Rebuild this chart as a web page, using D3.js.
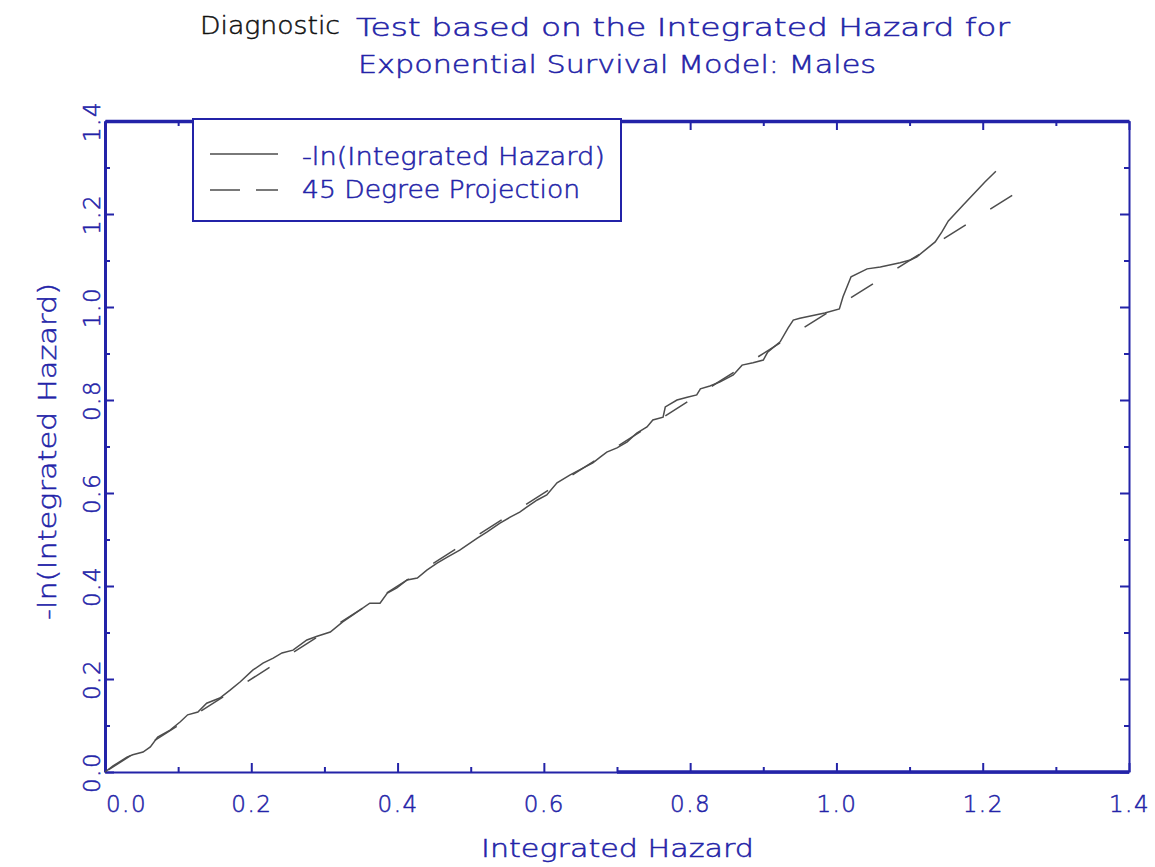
<!DOCTYPE html>
<html>
<head>
<meta charset="utf-8">
<script src="https://cdn.jsdelivr.net/npm/d3@7"></script>
<style>
body { margin:0; background:#fff; }
svg text { font-family: "DejaVu Sans", sans-serif; font-weight: 200; stroke-width: 0.5px; }
</style>
</head>
<body>
<svg id="chart" width="1155" height="867"></svg>
<script>
// -ln(integrated hazard) vs integrated hazard
var hazX = [0, 0.011, 0.030, 0.038, 0.052, 0.062, 0.072, 0.089, 0.103, 0.113, 0.127, 0.139, 0.157, 0.171,
    0.185, 0.202, 0.216, 0.230, 0.242, 0.257, 0.276, 0.290, 0.308, 0.325, 0.339, 0.362, 0.376, 0.386,
    0.399, 0.413, 0.427, 0.440, 0.454, 0.468, 0.485, 0.509, 0.522, 0.540, 0.554, 0.567, 0.577, 0.591,
    0.604, 0.618, 0.636, 0.654, 0.667, 0.677, 0.686, 0.700, 0.714, 0.727, 0.741, 0.749, 0.763, 0.766,
    0.782, 0.796, 0.809, 0.814, 0.827, 0.841, 0.859, 0.871, 0.886, 0.900, 0.906, 0.923, 0.934, 0.941,
    0.950, 0.984, 1.004, 1.009, 1.020, 1.042, 1.060, 1.087, 1.101, 1.110, 1.135, 1.144, 1.153, 1.173,
    1.203, 1.218];
var hazY = [0, 0.013, 0.032, 0.037, 0.043, 0.054, 0.075, 0.090, 0.108, 0.123, 0.129, 0.148, 0.159, 0.176,
    0.194, 0.219, 0.234, 0.245, 0.256, 0.262, 0.284, 0.292, 0.301, 0.323, 0.338, 0.363, 0.363, 0.385,
    0.396, 0.413, 0.417, 0.434, 0.449, 0.462, 0.477, 0.503, 0.516, 0.535, 0.548, 0.559, 0.570, 0.585,
    0.596, 0.622, 0.639, 0.654, 0.665, 0.677, 0.688, 0.697, 0.710, 0.729, 0.742, 0.757, 0.763, 0.785,
    0.800, 0.806, 0.811, 0.824, 0.830, 0.839, 0.854, 0.875, 0.880, 0.886, 0.903, 0.925, 0.955, 0.972,
    0.976, 0.987, 0.996, 1.022, 1.065, 1.082, 1.086, 1.095, 1.101, 1.108, 1.140, 1.161, 1.185, 1.219,
    1.269, 1.292];
// 45 degree projection
var projX = [0, 1.242];
var projY = [0, 1.242];

var majorTicks = [0, 0.2, 0.4, 0.6, 0.8, 1.0, 1.2, 1.4];
var minorTicks = [0.1, 0.3, 0.5, 0.7, 0.9, 1.1, 1.3];
var tickLabels = ["0.0", "0.2", "0.4", "0.6", "0.8", "1.0", "1.2", "1.4"];
var legendLabels = ["-ln(Integrated Hazard)", "45 Degree Projection"];

var blue = "#2323a8";
var grey = "#4d4d4d";

var svg = d3.select("#chart");
var x = d3.scaleLinear().domain([0, 1.4]).range([105, 1129]);
var y = d3.scaleLinear().domain([0, 1.4]).range([772, 121]);

function txt(str, tx, ty, len, size, color) {
    return svg.append("text")
        .attr("x", tx).attr("y", ty)
        .attr("textLength", len).attr("lengthAdjust", "spacingAndGlyphs")
        .style("font-size", size + "px")
        .attr("fill", color).attr("stroke", color)
        .text(str);
}

// titles
txt("Diagnostic", 200, 34, 140, 25, "#111");
txt("Test based on the Integrated Hazard for", 356, 36, 654, 25, blue);
txt("Exponential Survival Model: Males", 358, 73, 518, 25, blue);
txt("Integrated Hazard", 481, 857, 273, 25, blue);
svg.append("text")
    .attr("transform", "translate(56,620) rotate(-90)")
    .attr("textLength", 337).attr("lengthAdjust", "spacingAndGlyphs")
    .style("font-size", "25px")
    .attr("fill", blue).attr("stroke", blue)
    .text("-ln(Integrated Hazard)");

// axes
function styleAxis(g, w) {
    g.select(".domain").attr("stroke", blue).attr("stroke-width", w);
    g.selectAll(".tick line").attr("stroke", blue).attr("stroke-width", 2);
    g.selectAll("text").attr("fill", blue).attr("stroke", blue)
        .style("font-size", "23px").style("font-family", "DejaVu Sans")
        .style("letter-spacing", "1.5px");
}

var bottom = svg.append("g").attr("transform", "translate(0," + y(0) + ")")
    .call(d3.axisBottom(x).tickValues(majorTicks).tickSize(-9).tickSizeOuter(0)
        .tickFormat(function(d, i) { return tickLabels[i]; }));
styleAxis(bottom, 2);
bottom.selectAll("text").attr("y", 40).attr("dy", null)
    .attr("dx", function(d) { return d === 0 ? 21 : 0; });
svg.append("g").attr("transform", "translate(0," + y(0) + ")")
    .call(d3.axisBottom(x).tickValues(minorTicks).tickSize(-5).tickFormat(""))
    .call(function(g) { g.select(".domain").remove(); styleAxis(g, 2); });
svg.append("line")
    .attr("x1", x(0.7)).attr("x2", x(1.4)).attr("y1", y(0)).attr("y2", y(0))
    .attr("stroke", blue).attr("stroke-width", 3.5);

var left = svg.append("g").attr("transform", "translate(" + x(0) + ",0)")
    .call(d3.axisLeft(y).tickValues(majorTicks).tickSize(-9).tickSizeOuter(0)
        .tickFormat(function(d, i) { return tickLabels[i]; }));
styleAxis(left, 3);
left.selectAll("text").attr("x", null).attr("dy", null)
    .attr("text-anchor", "middle")
    .attr("transform", "translate(-5,0) rotate(-90)");
svg.append("g").attr("transform", "translate(" + x(0) + ",0)")
    .call(d3.axisLeft(y).tickValues(minorTicks).tickSize(-5).tickFormat(""))
    .call(function(g) { g.select(".domain").remove(); styleAxis(g, 2); });

var top_ = svg.append("g").attr("transform", "translate(0," + y(1.4) + ")")
    .call(d3.axisTop(x).tickValues(majorTicks).tickSize(-9).tickSizeOuter(0).tickFormat(""));
styleAxis(top_, 3.5);
svg.append("g").attr("transform", "translate(0," + y(1.4) + ")")
    .call(d3.axisTop(x).tickValues(minorTicks).tickSize(-5).tickFormat(""))
    .call(function(g) { g.select(".domain").remove(); styleAxis(g, 2); });

var right = svg.append("g").attr("transform", "translate(" + x(1.4) + ",0)")
    .call(d3.axisRight(y).tickValues(majorTicks).tickSize(-9).tickSizeOuter(0).tickFormat(""));
styleAxis(right, 2);
svg.append("g").attr("transform", "translate(" + x(1.4) + ",0)")
    .call(d3.axisRight(y).tickValues(minorTicks).tickSize(-5).tickFormat(""))
    .call(function(g) { g.select(".domain").remove(); styleAxis(g, 2); });

// lines
var line = d3.line()
    .x(function(d) { return x(d[0]); })
    .y(function(d) { return y(d[1]); });

svg.append("path")
    .datum(hazX.map(function(v, i) { return [v, hazY[i]]; }))
    .attr("d", line)
    .attr("fill", "none")
    .attr("stroke", grey)
    .attr("stroke-width", 1.5);

svg.append("path")
    .datum(projX.map(function(v, i) { return [v, projY[i]]; }))
    .attr("d", line)
    .attr("fill", "none")
    .attr("stroke", grey)
    .attr("stroke-width", 1.5)
    .attr("stroke-dasharray", "26,29")
    .attr("stroke-dashoffset", -4);

// legend
var legend = svg.append("g");
legend.append("rect")
    .attr("x", 193).attr("y", 119).attr("width", 428).attr("height", 102)
    .attr("fill", "#fff").attr("stroke", blue).attr("stroke-width", 2);
legend.append("line")
    .attr("x1", 210).attr("x2", 278).attr("y1", 154).attr("y2", 154)
    .attr("stroke", grey).attr("stroke-width", 1.5);
legend.append("line")
    .attr("x1", 210).attr("x2", 278).attr("y1", 190).attr("y2", 190)
    .attr("stroke", grey).attr("stroke-width", 1.5)
    .attr("stroke-dasharray", "30,16");
txt(legendLabels[0], 302, 165, 303, 24, blue);
txt(legendLabels[1], 302, 198, 278, 24, blue);
</script>
</body>
</html>
